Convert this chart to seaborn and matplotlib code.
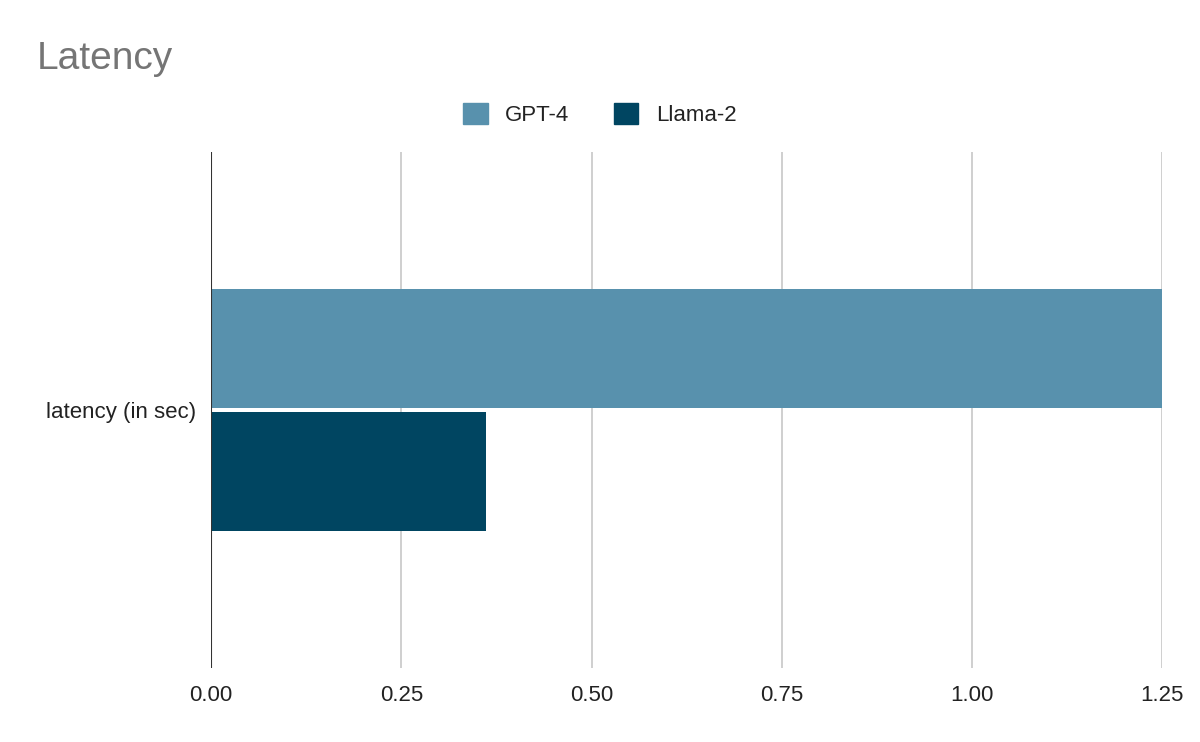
import pandas as pd
import matplotlib
matplotlib.use("Agg")
import matplotlib.pyplot as plt
import seaborn as sns

# chart data
models = ["GPT-4", "Llama-2"]
metric = ["latency (in sec)", "latency (in sec)"]
latency = [1.25, 0.361]
colors = ["#5891ad", "#004561"]
x_ticks = [0.0, 0.25, 0.5, 0.75, 1.0, 1.25]

df = pd.DataFrame({"model": models, "metric": metric, "latency": latency})

sns.set_theme(style="white")
plt.rcParams["font.family"] = ["Liberation Sans", "DejaVu Sans"]

fig = plt.figure(figsize=(12, 7.42), dpi=100)
ax = fig.add_axes([0.176, 0.0997, 0.7925, 0.6955])

sns.barplot(data=df, x="latency", y="metric", hue="model", hue_order=models,
            palette=colors, orient="h", width=0.48, gap=0.04, saturation=1,
            edgecolor="none", linewidth=0, legend=False, ax=ax)

ax.set_xlim(0, 1.25)
ax.set_ylim(0.5, -0.5)
ax.set_xticks(x_ticks)
ax.set_xticklabels([f"{t:.2f}" for t in x_ticks])
ax.grid(axis="x", color="#cccccc", linewidth=1.3)
ax.grid(axis="y", visible=False)
ax.set_axisbelow(True)
ax.axvline(0, color="#333333", linewidth=1.5, zorder=5)
for s in ax.spines.values():
    s.set_visible(False)
ax.tick_params(axis="x", length=0, pad=12, labelsize=16, labelcolor="#222222")
ax.tick_params(axis="y", length=0, pad=11, labelsize=16, labelcolor="#222222")
ax.set_xlabel("")
ax.set_ylabel("")

# legend on top
handles = [plt.Rectangle((0, 0), 1, 1, color=c) for c in colors]
fig.legend(handles, models, loc="center", bbox_to_anchor=(0.5, 0.846), ncol=2,
           frameon=False, fontsize=16, handlelength=1.1, handleheight=1.1,
           columnspacing=2.0, handletextpad=0.8, labelcolor="#222222")

fig.text(0.031, 0.907, "Latency", fontsize=28, color="#757575", ha="left", va="baseline")

fig.savefig("out.png", dpi=100)
